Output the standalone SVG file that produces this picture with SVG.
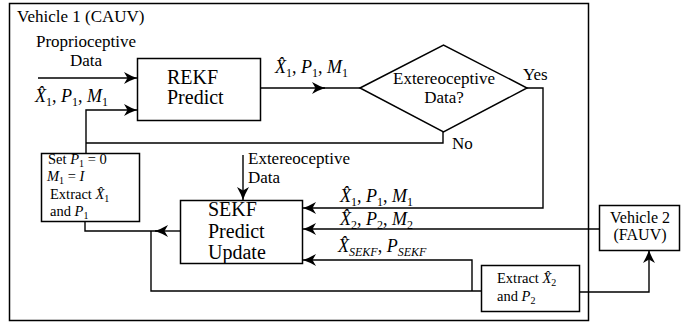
<svg xmlns="http://www.w3.org/2000/svg" width="681" height="322" viewBox="0 0 681 322">
<style>
text{font-family:'Liberation Serif','Times New Roman',Times,serif;fill:#000}
.lbl{font-size:17px}
.big{font-size:20px}
.sm{font-size:14.5px}
.v2{font-size:16px}
.m{font-size:18px}
.i{font-style:italic}
.box{fill:#fff;stroke:#000;stroke-width:1.5}
.ln{fill:none;stroke:#000;stroke-width:1.4}
</style>
<defs>
<marker id="ah" viewBox="-14 -7 15 14" refX="0" refY="0" markerWidth="15" markerHeight="14" markerUnits="userSpaceOnUse" orient="auto">
<path d="M0,0 Q-6,-2 -13,-6 L-9.5,0 L-13,6 Q-6,2 0,0 Z" fill="#000"/>
</marker>
</defs>
<rect id="frame" x="9.5" y="3.5" width="579" height="317" fill="none" stroke="#000" stroke-width="1.5"/>
<text x="17" y="22" class="lbl">Vehicle 1 (CAUV)</text>

<g id="connectors">
<line class="ln" x1="38" y1="78" x2="137" y2="78" marker-end="url(#ah)"/>
<polyline class="ln" points="86,153 86,110 137,110" marker-end="url(#ah)"/>
<polyline class="ln" points="443,132 443,143 86,143"/>
<line class="ln" x1="261" y1="88" x2="325" y2="88" marker-end="url(#ah)"/>
<line class="ln" x1="323" y1="88" x2="360" y2="88"/>
<polyline class="ln" points="527,88 543,88 543,208 303,208" marker-end="url(#ah)"/>
<line class="ln" x1="243" y1="155" x2="243" y2="200" marker-end="url(#ah)"/>
<line class="ln" x1="599" y1="229" x2="303" y2="229" marker-end="url(#ah)"/>
<polyline class="ln" points="472,291 472,260 303,260" marker-end="url(#ah)"/>
<line class="ln" x1="180" y1="231" x2="155" y2="231" marker-end="url(#ah)"/>
<polyline class="ln" points="157,231 85,231 85,221"/>
<polyline class="ln" points="151,231 151,291 481,291"/>
<polyline class="ln" points="579,292 649,292 649,250" marker-end="url(#ah)"/>
</g>

<text x="86" y="47" class="lbl" text-anchor="middle">Proprioceptive</text>
<text x="86" y="66" class="lbl" text-anchor="middle">Data</text>
<text x="35" y="102" class="m"><tspan class="i">X̂</tspan><tspan font-size="12" dy="4">1</tspan><tspan dy="-4">, </tspan><tspan class="i">P</tspan><tspan font-size="12" dy="4">1</tspan><tspan dy="-4">, </tspan><tspan class="i">M</tspan><tspan font-size="12" dy="4">1</tspan></text>
<text x="275" y="73" class="m"><tspan class="i">X̂</tspan><tspan font-size="12" dy="4">1</tspan><tspan dy="-4">, </tspan><tspan class="i">P</tspan><tspan font-size="12" dy="4">1</tspan><tspan dy="-4">, </tspan><tspan class="i">M</tspan><tspan font-size="12" dy="4">1</tspan></text>
<text x="523" y="80" class="lbl">Yes</text>
<text x="452" y="149" class="lbl">No</text>
<text x="248" y="164" class="lbl">Extereoceptive</text>
<text x="248" y="183" class="lbl">Data</text>
<text x="340" y="202" class="m"><tspan class="i">X̂</tspan><tspan font-size="12" dy="4">1</tspan><tspan dy="-4">, </tspan><tspan class="i">P</tspan><tspan font-size="12" dy="4">1</tspan><tspan dy="-4">, </tspan><tspan class="i">M</tspan><tspan font-size="12" dy="4">1</tspan></text>
<text x="340" y="225" class="m"><tspan class="i">X̂</tspan><tspan font-size="12" dy="4">2</tspan><tspan dy="-4">, </tspan><tspan class="i">P</tspan><tspan font-size="12" dy="4">2</tspan><tspan dy="-4">, </tspan><tspan class="i">M</tspan><tspan font-size="12" dy="4">2</tspan></text>
<text x="338" y="252" class="m"><tspan class="i">X̂</tspan><tspan class="i" font-size="12" dy="4">SEKF</tspan><tspan dy="-4">, </tspan><tspan class="i">P</tspan><tspan class="i" font-size="12" dy="4">SEKF</tspan></text>

<g id="rekf">
<rect class="box" x="137.5" y="58.5" width="123" height="62"/>
<text x="167" y="84" class="big">REKF</text>
<text x="167" y="104" class="big">Predict</text>
</g>

<g id="decision">
<polygon class="box" points="360,88 443.5,45 527,88 443.5,132"/>
<text x="444" y="84" class="lbl" text-anchor="middle">Extereoceptive</text>
<text x="444" y="103" class="lbl" text-anchor="middle">Data?</text>
</g>

<g id="sekf">
<rect class="box" x="180.5" y="200.5" width="122" height="63"/>
<text x="208" y="216" class="big">SEKF</text>
<text x="208" y="238" class="big">Predict</text>
<text x="208" y="259" class="big">Update</text>
</g>

<g id="set">
<rect class="box" x="41.5" y="153.5" width="98" height="68"/>
<text x="48" y="164" class="sm">Set <tspan class="i">P</tspan><tspan font-size="10" dy="3">1</tspan><tspan dy="-3"> = 0</tspan></text>
<text x="47" y="181" class="sm"><tspan class="i">M</tspan><tspan font-size="10" dy="3">1</tspan><tspan dy="-3"> = </tspan><tspan class="i">I</tspan></text>
<text x="50" y="199" class="sm">Extract <tspan class="i">X̂</tspan><tspan font-size="10" dy="3">1</tspan></text>
<text x="50" y="216" class="sm">and <tspan class="i">P</tspan><tspan font-size="10" dy="3">1</tspan></text>
</g>

<g id="extract2">
<rect class="box" x="481.5" y="265.5" width="98" height="46"/>
<text x="497" y="283" class="sm">Extract <tspan class="i">X̂</tspan><tspan font-size="10" dy="3">2</tspan></text>
<text x="497" y="301" class="sm">and <tspan class="i">P</tspan><tspan font-size="10" dy="3">2</tspan></text>
</g>

<g id="vehicle2">
<rect class="box" x="599.5" y="205.5" width="80" height="45"/>
<text x="640" y="223" class="v2" text-anchor="middle">Vehicle 2</text>
<text x="640" y="240" class="v2" text-anchor="middle">(FAUV)</text>
</g>
</svg>
